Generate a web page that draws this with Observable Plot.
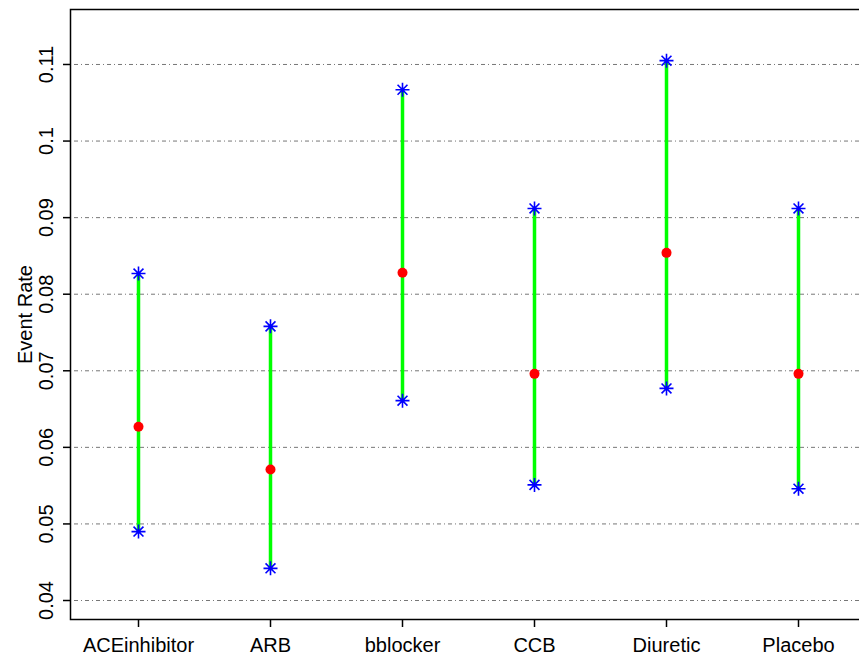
<!DOCTYPE html>
<html>
<head>
<meta charset="utf-8">
<script src="https://cdn.jsdelivr.net/npm/d3@7"></script>
<script src="https://cdn.jsdelivr.net/npm/@observablehq/plot@0.6"></script>
<style>
  html, body { margin: 0; padding: 0; background: #fff; overflow: hidden; }
  #chart svg { overflow: hidden; display: block; }
</style>
</head>
<body>
<div id="chart"></div>
<script>
const drugs = ["ACEinhibitor", "ARB", "bblocker", "CCB", "Diuretic", "Placebo"];
const means = [0.0627, 0.0571, 0.0828, 0.0696, 0.0854, 0.0696];
const lowers = [0.0490, 0.0442, 0.0661, 0.0551, 0.0677, 0.0546];
const uppers = [0.0827, 0.0758, 0.1067, 0.0912, 0.1105, 0.0912];
const yTicks = [0.04, 0.05, 0.06, 0.07, 0.08, 0.09, 0.1, 0.11];
const yTickLabels = ["0.04", "0.05", "0.06", "0.07", "0.08", "0.09", "0.1", "0.11"];
const yLabel = "Event Rate";

const rows = drugs.map((d, i) => ({drug: d, mean: means[i], lower: lowers[i], upper: uppers[i]}));
const ends = rows.flatMap(r => [{drug: r.drug, v: r.lower}, {drug: r.drug, v: r.upper}]);
const tickRows = yTicks.map((v, i) => ({v, label: yTickLabels[i]}));

// R pch=8 style asterisk: 8 spokes of equal length
const asterisk = {
  draw(context, size) {
    const r = Math.sqrt(size / Math.PI);
    const d = r / Math.SQRT2;
    context.moveTo(-r, 0); context.lineTo(r, 0);
    context.moveTo(0, -r); context.lineTo(0, r);
    context.moveTo(-d, -d); context.lineTo(d, d);
    context.moveTo(-d, d); context.lineTo(d, -d);
  }
};

const chart = Plot.plot({
  width: 859,
  height: 655,
  marginLeft: 70,
  marginTop: 9,
  marginBottom: 36,
  marginRight: -7,
  style: {fontFamily: "'Liberation Sans', Arial, sans-serif", fontSize: "20px", background: "#fff", color: "#000"},
  x: {type: "point", domain: drugs, padding: 0.5, label: null},
  y: {domain: [0.03752, 0.11718], label: null},
  marks: [
    Plot.gridY(yTicks, {stroke: "#777", strokeOpacity: 1, strokeWidth: 1, strokeDasharray: "1,3,4,3"}),
    Plot.axisX({tickSize: 8, tickPadding: 10, fontSize: 20, label: null, stroke: "#000", strokeWidth: 1.5}),
    Plot.axisY(yTicks, {tickSize: 7, tickFormat: () => "", label: null, stroke: "#000", strokeWidth: 1.5}),
    Plot.text(tickRows, {y: "v", text: "label", frameAnchor: "left", textAnchor: "middle", dx: -24, rotate: -90, fontSize: 20, fill: "#000"}),
    Plot.text([yLabel], {text: d => d, frameAnchor: "left", textAnchor: "middle", dx: -45, rotate: -90, fontSize: 20, fill: "#000"}),
    Plot.ruleX(rows, {x: "drug", y1: "lower", y2: "upper", stroke: "#00ff00", strokeWidth: 3.5}),
    Plot.dot(rows, {x: "drug", y: "mean", r: 5, fill: "#ff0000", stroke: "none"}),
    Plot.dot(ends, {x: "drug", y: "v", r: 7, symbol: asterisk, stroke: "#0000ff", strokeWidth: 1.6, fill: "none"}),
    Plot.frame({stroke: "#000", strokeWidth: 1.5})
  ]
});
document.getElementById("chart").appendChild(chart);
</script>
</body>
</html>
